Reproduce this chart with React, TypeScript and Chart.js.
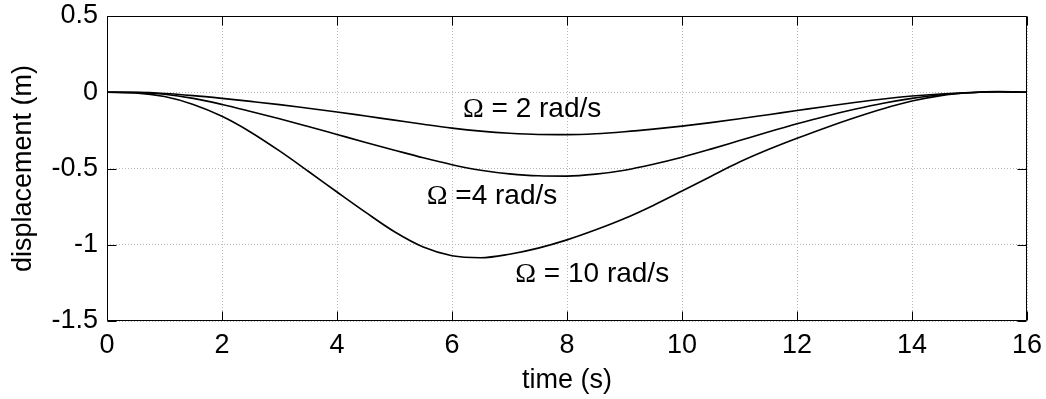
import React, { useEffect, useRef } from "react";
import { Chart, registerables } from "chart.js";

Chart.register(...registerables);

const SANS = '"Liberation Sans", Arial, Helvetica, sans-serif';
const SERIF = '"Liberation Serif", "Times New Roman", serif';
const FONT_SIZE = 27;
const LABEL_SIZE = 28;

// time axis (s)
const time = [
  0, 0.5, 1, 1.5, 2, 2.5, 3, 3.5, 4, 4.5, 5, 5.5, 6, 6.5, 7, 7.5, 8, 8.5, 9, 9.5,
  10, 10.5, 11, 11.5, 12, 12.5, 13, 13.5, 14, 14.5, 15, 15.5, 16,
];

// displacement (m) for Omega = 2 rad/s
const omega2 = [
  0, -0.001, -0.008, -0.022, -0.04, -0.06, -0.081, -0.105, -0.129, -0.156,
  -0.183, -0.21, -0.235, -0.255, -0.269, -0.277, -0.278, -0.272, -0.259, -0.242,
  -0.222, -0.199, -0.174, -0.147, -0.12, -0.093, -0.067, -0.044, -0.025, -0.011,
  -0.002, 0.003, 0.0,
];

// displacement (m) for Omega = 4 rad/s
const omega4 = [
  0, -0.002, -0.013, -0.04, -0.08, -0.126, -0.174, -0.225, -0.277, -0.329,
  -0.38, -0.43, -0.475, -0.511, -0.535, -0.548, -0.55, -0.537, -0.511, -0.472,
  -0.426, -0.373, -0.317, -0.261, -0.207, -0.157, -0.112, -0.072, -0.04, -0.016,
  -0.003, 0.003, 0.0,
];

// displacement (m) for Omega = 10 rad/s
const omega10 = [
  0, -0.004, -0.028, -0.08, -0.158, -0.262, -0.385, -0.518, -0.654, -0.788,
  -0.915, -1.015, -1.072, -1.085, -1.062, -1.022, -0.968, -0.902, -0.828, -0.742,
  -0.648, -0.552, -0.458, -0.376, -0.302, -0.232, -0.167, -0.108, -0.058, -0.022,
  -0.003, 0.004, 0.0,
];

const xTickValues = [0, 2, 4, 6, 8, 10, 12, 14, 16];
const yTickValues = [0.5, 0, -0.5, -1, -1.5];
const yTickLabels = ["0.5", "0", "-0.5", "-1", "-1.5"];

// curve annotations: Omega symbol + remaining text, anchored in data units (t, displacement)
const labelRest = [" = 2 rad/s", " =4 rad/s", " = 10 rad/s"];
const labelT = [6.19, 5.56, 7.1];
const labelV = [-0.162, -0.734, -1.246];

const xTitle = "time (s)";
const yTitle = "displacement (m)";

export default function App() {
  const ref = useRef<HTMLCanvasElement>(null);

  useEffect(() => {
    const canvas = ref.current;
    if (!canvas) return;

    const matlabAxes = {
      id: "matlabAxes",
      afterDatasetsDraw(chart: any) {
        const { ctx, chartArea, scales } = chart;
        const { left, right, top, bottom } = chartArea;
        const xs = scales.x;
        const ys = scales.y;
        ctx.save();
        ctx.strokeStyle = "#000";
        ctx.lineWidth = 1;
        const L = Math.round(left) + 0.5;
        const R = Math.round(right) - 0.5;
        const T = Math.round(top) + 0.5;
        const B = Math.round(bottom) - 0.5;
        ctx.beginPath();
        ctx.rect(L, T, R - L, B - T);
        const tl = 9;
        for (const v of xTickValues) {
          const px = Math.round(xs.getPixelForValue(v)) + 0.5;
          ctx.moveTo(px, B);
          ctx.lineTo(px, B - tl);
          ctx.moveTo(px, T);
          ctx.lineTo(px, T + tl);
        }
        for (const v of yTickValues) {
          const py = Math.round(ys.getPixelForValue(v)) + 0.5;
          ctx.moveTo(L, py);
          ctx.lineTo(L + tl, py);
          ctx.moveTo(R, py);
          ctx.lineTo(R - tl, py);
        }
        ctx.stroke();

        // curve labels
        ctx.fillStyle = "#000";
        ctx.textBaseline = "alphabetic";
        ctx.textAlign = "left";
        for (let i = 0; i < labelRest.length; i++) {
          const px = xs.getPixelForValue(labelT[i]);
          const py = ys.getPixelForValue(labelV[i]);
          ctx.font = `${LABEL_SIZE}px ${SERIF}`;
          ctx.fillText("\u03A9", px, py);
          const w = ctx.measureText("\u03A9").width;
          ctx.font = `${LABEL_SIZE}px ${SANS}`;
          ctx.fillText(labelRest[i], px + w, py);
        }

        // axis titles
        ctx.font = `${FONT_SIZE}px ${SANS}`;
        ctx.textAlign = "center";
        ctx.fillText(xTitle, (left + right) / 2, bottom + 67);
        ctx.translate(left - 76, (top + bottom) / 2);
        ctx.rotate(-Math.PI / 2);
        ctx.fillText(yTitle, 0, 0);
        ctx.restore();
      },
    };

    const mk = (data: number[]) =>
      time.map((t, i) => ({ x: t, y: data[i] }));

    const lineStyle = {
      borderColor: "#000",
      borderWidth: 1.6,
      pointRadius: 0,
      cubicInterpolationMode: "monotone" as const,
      fill: false,
    };

    const zeroPad = (s: any) => {
      s.paddingTop = 0;
      s.paddingBottom = 0;
      s.paddingLeft = 0;
      s.paddingRight = 0;
    };

    const chart = new Chart(canvas, {
      type: "line",
      data: {
        datasets: [
          { label: "\u03A9 = 2 rad/s", data: mk(omega2), ...lineStyle },
          { label: "\u03A9 = 4 rad/s", data: mk(omega4), ...lineStyle },
          { label: "\u03A9 = 10 rad/s", data: mk(omega10), ...lineStyle },
        ],
      },
      options: {
        responsive: false,
        animation: false,
        layout: { padding: { top: 16, right: 19, left: 0, bottom: 0 } },
        plugins: {
          legend: { display: false },
          tooltip: { enabled: false },
        },
        scales: {
          x: {
            type: "linear",
            min: 0,
            max: 16,
            afterFit: (s: any) => {
              s.height = 78;
              zeroPad(s);
            },
            afterBuildTicks: (s: any) => {
              s.ticks = xTickValues.map((v) => ({ value: v }));
            },
            ticks: {
              color: "#000",
              font: { family: SANS, size: FONT_SIZE },
              padding: 8,
              maxRotation: 0,
              callback: (v: any) => String(v),
            },
            grid: {
              color: "#b8b8b8",
              lineWidth: 1,
              drawTicks: false,
            },
            border: { display: false, dash: [1, 2] },
          },
          y: {
            type: "linear",
            min: -1.5,
            max: 0.5,
            afterFit: (s: any) => {
              s.width = 107;
              zeroPad(s);
            },
            afterBuildTicks: (s: any) => {
              s.ticks = yTickValues.map((v) => ({ value: v }));
            },
            ticks: {
              color: "#000",
              font: { family: SANS, size: FONT_SIZE },
              padding: 9,
              callback: (v: any) => {
                const i = yTickValues.indexOf(Number(v));
                return i >= 0 ? yTickLabels[i] : String(v);
              },
            },
            grid: {
              color: "#b8b8b8",
              lineWidth: 1,
              drawTicks: false,
            },
            border: { display: false, dash: [1, 2] },
          },
        },
      },
      plugins: [matlabAxes],
    });

    return () => chart.destroy();
  }, []);

  return (
    <div
      style={{
        position: "absolute",
        left: 0,
        top: 0,
        width: 1046,
        height: 399,
        background: "#fff",
      }}
    >
      <canvas ref={ref} width={1046} height={399} style={{ display: "block" }} />
    </div>
  );
}
